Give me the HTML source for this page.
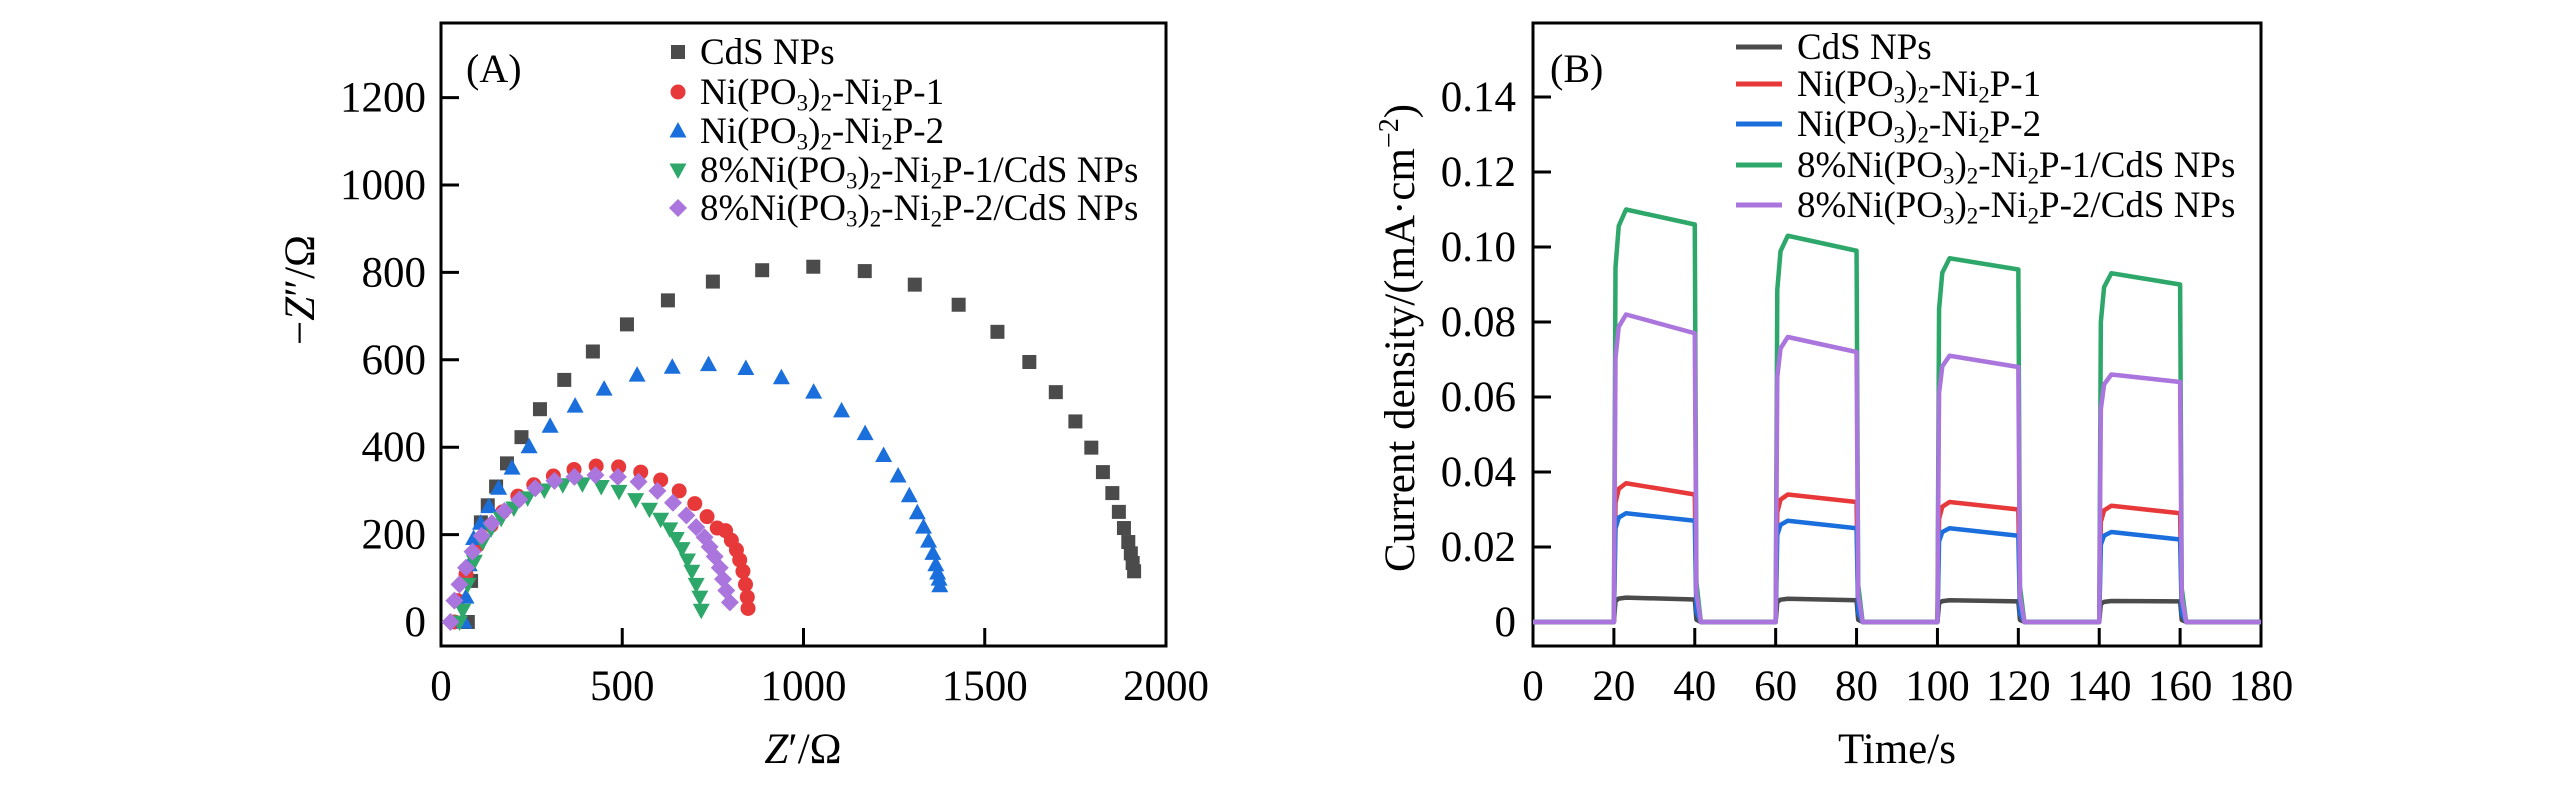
<!DOCTYPE html>
<html><head><meta charset="utf-8">
<style>
html,body{margin:0;padding:0;background:#fff;}
svg{display:block;font-family:"Liberation Serif","Times New Roman",serif;}
</style></head>
<body>
<svg id="fig" width="2567" height="787" viewBox="0 0 2567 787" xmlns="http://www.w3.org/2000/svg">
<g id="panelA"></g>
<g id="panelB"></g>
</svg>
<script>
// ---------- Panel A data (Nyquist) ----------
const aXTicks = [0, 500, 1000, 1500, 2000];
const aYTicks = [0, 200, 400, 600, 800, 1000, 1200];
const aSeriesNames = ["CdS NPs", "Ni(PO3)2-Ni2P-1", "Ni(PO3)2-Ni2P-2", "8%Ni(PO3)2-Ni2P-1/CdS NPs", "8%Ni(PO3)2-Ni2P-2/CdS NPs"];
const cdsZre = [74,83,110,129,152,182,222,273,340,419,513,626,750,886,1027,1169,1307,1428,1535,1623,1696,1750,1794,1826,1852,1870,1884,1896,1903,1908,1912];
const cdsZim = [0,94,228,267,310,363,423,487,554,619,681,736,779,805,813,803,772,726,664,595,526,459,399,343,295,252,215,183,157,135,116];
const ni1Zre = [37,46,69,101,138,170,212,256,310,367,428,490,551,606,657,700,734,762,785,801,815,824,833,840,845,847];
const ni1Zim = [0,49,109,176,221,252,288,314,334,349,357,355,343,325,300,271,241,215,209,187,165,142,116,86,57,31];
const ni2Zre = [64,69,78,90,109,132,159,196,243,301,370,450,541,638,738,841,939,1028,1105,1170,1221,1261,1292,1314,1331,1345,1357,1365,1370,1374,1376];
const ni2Zim = [0,57,131,191,226,264,306,352,401,448,494,533,565,583,589,580,559,526,483,431,381,334,289,250,217,185,157,131,112,98,83];
const g1Zre = [51,60,74,92,115,138,166,201,239,285,336,390,442,491,537,575,606,631,649,665,680,692,704,714,718];
const g1Zim = [0,27,86,139,183,213,237,261,284,302,314,316,310,299,280,258,235,213,191,168,142,116,86,57,27];
const g2Zre = [26,37,51,69,87,112,140,175,216,260,313,368,426,488,545,597,640,677,704,727,741,755,769,778,787,797];
const g2Zim = [0,49,86,124,161,197,226,254,280,306,323,332,336,332,321,300,273,244,217,194,172,150,124,98,72,45];

// ---------- Panel B data (photocurrent) ----------
const bXTicks = [0,20,40,60,80,100,120,140,160,180];
const bYTicks = [0,0.02,0.04,0.06,0.08,0.10,0.12,0.14];
const bYTickLabels = ["0","0.02","0.04","0.06","0.08","0.10","0.12","0.14"];
const lightOn = [20,60,100,140];
const lightOff = [40,80,120,160];
const bNames = ["CdS NPs","Ni(PO3)2-Ni2P-1","Ni(PO3)2-Ni2P-2","8%Ni(PO3)2-Ni2P-1/CdS NPs","8%Ni(PO3)2-Ni2P-2/CdS NPs"];
const cdsPeak = [0.0065,0.0062,0.0058,0.0056];
const cdsEnd  = [0.0060,0.0058,0.0055,0.0055];
const ni1Peak = [0.037,0.034,0.032,0.031];
const ni1End  = [0.034,0.032,0.030,0.029];
const ni2Peak = [0.029,0.027,0.025,0.024];
const ni2End  = [0.027,0.025,0.023,0.022];
const g1Peak  = [0.110,0.103,0.097,0.093];
const g1End   = [0.106,0.099,0.094,0.090];
const g2Peak  = [0.082,0.076,0.071,0.066];
const g2End   = [0.077,0.072,0.068,0.064];

const NS = "http://www.w3.org/2000/svg";
const COLORS = ["#4b4b4b","#e8393a","#1b6fdc","#2ea86a","#aa75dd"];
function mk(tag, attrs, parent){
  const e=document.createElementNS(NS,tag);
  for(const k in attrs) e.setAttribute(k,attrs[k]);
  if(parent) parent.appendChild(e);
  return e;
}

function chemText(parent,x,y,str,size){
  const t=mk("text",{x:x,y:y,"font-size":size},parent);
  const parts=str.split(/(O3\)2|Ni2P)/);
  const sub=size*0.62, dy=size*0.18;
  parts.forEach(p=>{
    if(p==="O3)2"){
      let s=mk("tspan",{},t); s.textContent="O";
      s=mk("tspan",{"font-size":sub,dy:dy},t); s.textContent="3";
      s=mk("tspan",{dy:-dy},t); s.textContent=")";
      s=mk("tspan",{"font-size":sub,dy:dy},t); s.textContent="2";
      s=mk("tspan",{dy:-dy},t); s.textContent="\u200B";
    } else if(p==="Ni2P"){
      let s=mk("tspan",{},t); s.textContent="Ni";
      s=mk("tspan",{"font-size":sub,dy:dy},t); s.textContent="2";
      s=mk("tspan",{dy:-dy},t); s.textContent="P";
    } else if(p.length){
      const s=mk("tspan",{},t); s.textContent=p;
    }
  });
  return t;
}

// ---------- Panel A ----------
(function(){
  const g=document.getElementById("panelA");
  const L=441,R=1166,T=23,B=646;
  const xMin=0,xMax=2000;
  const sx=v=>L+(v-xMin)/(xMax-xMin)*(R-L);
  const sy=v=>622-(v)*(622-97.6)/1200;
  const box=mk("rect",{x:L,y:T,width:R-L,height:B-T,fill:"none",stroke:"#000","stroke-width":3},g);
  
  
  aXTicks.forEach(v=>{
    const x=sx(v);
    if(v>xMin&&v<xMax){
      const tk=mk("line",{x1:x,y1:B,x2:x,y2:B-18,stroke:"#000","stroke-width":3},g);
      
      
    }
    const t=mk("text",{x:x,y:700,"font-size":43,"text-anchor":"middle"},g);
    t.textContent=v;
    
    
  });
  aYTicks.forEach(v=>{
    const y=sy(v);
    const tk=mk("line",{x1:L,y1:y,x2:L+18,y2:y,stroke:"#000","stroke-width":3},g);
    
    
    const t=mk("text",{x:426,y:y+14,"font-size":43,"text-anchor":"end"},g);
    t.textContent=v;
    
    
  });
  const xt=mk("text",{x:803,y:763,"font-size":43,"text-anchor":"middle"},g);
  xt.innerHTML='<tspan font-style="italic">Z</tspan>′/Ω';
  
  
  const yt=mk("text",{x:0,y:0,"font-size":43,"text-anchor":"middle",transform:"translate(314,290) rotate(-90)"},g);
  yt.innerHTML='−<tspan font-style="italic">Z</tspan>″/Ω';
  
  
  const pl=mk("text",{x:466,y:82,"font-size":40},g);
  pl.textContent="(A)";
  
  

  function marker(parent,type,x,y,color){
    let e;
    if(type==="square") e=mk("rect",{x:x-7,y:y-7,width:14,height:14,fill:color},parent);
    else if(type==="circle") e=mk("circle",{cx:x,cy:y,r:7.5,fill:color},parent);
    else if(type==="up") e=mk("polygon",{points:`${x},${y-9} ${x+8.5},${y+6.5} ${x-8.5},${y+6.5}`,fill:color},parent);
    else if(type==="down") e=mk("polygon",{points:`${x},${y+9} ${x+8.5},${y-6.5} ${x-8.5},${y-6.5}`,fill:color},parent);
    else e=mk("polygon",{points:`${x},${y-9} ${x+9},${y} ${x},${y+9} ${x-9},${y}`,fill:color},parent);
    return e;
  }
  const series=[[cdsZre,cdsZim,"square"],[ni1Zre,ni1Zim,"circle"],[ni2Zre,ni2Zim,"up"],[g1Zre,g1Zim,"down"],[g2Zre,g2Zim,"diamond"]];
  const names=["series-cds-nps","series-ni-1","series-ni-2","series-8-ni-1-cds","series-8-ni-2-cds"];
  series.forEach((s,i)=>{
    const sg=mk("g",{},g);
    
    
    s[0].forEach((xv,j)=>{
      const m=marker(sg,s[2],sx(xv),sy(s[1][j]),COLORS[i]);
      
      
    });
  });
  const lg=mk("g",{},g);
  
  
  const rows=[52,92,131,170,208];
  const types=["square","circle","up","down","diamond"];
  aSeriesNames.forEach((n,i)=>{
    const m=marker(lg,types[i],678,rows[i],COLORS[i]);
    
    
    const t=chemText(lg,700,rows[i]+12,n,37);
    
    
  });
})();

// ---------- Panel B ----------
(function(){
  const g=document.getElementById("panelB");
  const L=1533,R=2261,T=23,B=646;
  const sx=v=>L+v/180*(R-L);
  const sy=v=>622-v/0.02*75;
  const box=mk("rect",{x:L,y:T,width:R-L,height:B-T,fill:"none",stroke:"#000","stroke-width":3},g);
  
  
  bXTicks.forEach(v=>{
    const x=sx(v);
    if(v>0&&v<180){
      const tk=mk("line",{x1:x,y1:B,x2:x,y2:B-18,stroke:"#000","stroke-width":3},g);
      
      
    }
    const t=mk("text",{x:x,y:700,"font-size":43,"text-anchor":"middle"},g);
    t.textContent=v;
    
    
  });
  bYTicks.forEach((v,i)=>{
    const y=sy(v);
    const tk=mk("line",{x1:L,y1:y,x2:L+18,y2:y,stroke:"#000","stroke-width":3},g);
    
    
    const t=mk("text",{x:1516,y:y+14,"font-size":43,"text-anchor":"end"},g);
    t.textContent=bYTickLabels[i];
    
    
  });
  const xt=mk("text",{x:1897,y:763,"font-size":43,"text-anchor":"middle"},g);
  xt.textContent="Time/s";
  
  
  const yt=mk("text",{x:0,y:0,"font-size":43,"text-anchor":"middle",transform:"translate(1414,338) rotate(-90)"},g);
  yt.innerHTML='Current density/(mA·cm<tspan font-size="28" dy="-16">−2</tspan><tspan dy="16">)</tspan>';
  
  
  const pl=mk("text",{x:1550,y:82,"font-size":40},g);
  pl.textContent="(B)";
  
  

  const peaks=[cdsPeak,ni1Peak,ni2Peak,g1Peak,g2Peak];
  const ends=[cdsEnd,ni1End,ni2End,g1End,g2End];
  const names=["line-cds-nps","line-ni-1","line-ni-2","line-8-ni-1-cds","line-8-ni-2-cds"];
  peaks.forEach((pk,i)=>{
    let d=`M${sx(0)},${sy(0)}`;
    lightOn.forEach((t0,k)=>{
      const t1=lightOff[k];
      d+=` L${sx(t0)},${sy(0)} L${sx(t0+0.4)},${sy(pk[k]*0.86)} L${sx(t0+1.2)},${sy(pk[k]*0.96)} L${sx(t0+3)},${sy(pk[k])} L${sx(t1)},${sy(ends[i][k])} L${sx(t1+0.4)},${sy(ends[i][k]*0.1)} L${sx(t1+1.5)},${sy(0)}`;
    });
    d+=` L${sx(180)},${sy(0)}`;
    const p=mk("path",{d:d,fill:"none",stroke:COLORS[i],"stroke-width":4.5,"stroke-linejoin":"round"},g);
    
    
  });
  const lg=mk("g",{},g);
  
  
  const rows=[47,84,124,165,205];
  bNames.forEach((n,i)=>{
    const ln=mk("line",{x1:1736,y1:rows[i],x2:1782,y2:rows[i],stroke:COLORS[i],"stroke-width":5},lg);
    
    
    const t=chemText(lg,1797,rows[i]+12,n,37);
    
    
  });
})();
</script>
</body></html>
